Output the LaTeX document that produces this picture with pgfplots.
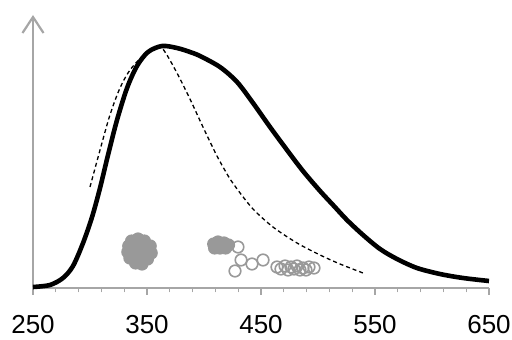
\documentclass[border=0pt]{standalone}
\usepackage{fontspec}
\setmainfont{Liberation Sans}
\usepackage{pgfplots}
\pgfplotsset{compat=1.18}
\usetikzlibrary{arrows.meta}
\definecolor{axgray}{HTML}{A6A6A6}
\definecolor{mkgray}{HTML}{999999}
\begin{document}
\begin{tikzpicture}
\begin{axis}[
  name=ax, at={(0,0)}, anchor=south west,
  scale only axis, width=456pt, height=273pt,
  xmin=250, xmax=650, ymin=0, ymax=273,
  enlargelimits=false, clip=false,
  axis x line=bottom, axis y line=left,
  x axis line style={-, draw=axgray, line width=1.6pt},
  y axis line style={-{Straight Barb[length=16pt,width=21pt]}, draw=axgray, line width=2.2pt},
  xtick={250,350,450,550,650}, minor x tick num=4,
  ytick=\empty,
  tick align=outside,
  major tick length=7pt, minor tick length=4.5pt,
  every tick/.style={draw=axgray, line width=1.2pt},
  /pgf/number format/assume math mode=true,
  xticklabel style={font=\fontsize{26}{26}\selectfont, inner sep=0pt, anchor=north, yshift=-20pt},
]
% solid curve
\addplot[black, line width=4.6pt, smooth] coordinates {
(250,1) (264.9,3) (276.3,10) (285.1,22) (293.9,45) (301.8,71) (308.8,100)
(315.8,133) (323.7,168) (332.5,200) (341.2,222) (350.9,236) (363.2,242)
(376.3,240) (387.7,236) (396.5,232) (414.0,221) (429.0,206) (443.0,185)
(457.9,161) (472.8,138) (486.8,117) (501.8,97) (514.0,82) (525.4,68)
(539.5,53) (554.4,39) (569.3,29) (586.8,20) (607.0,14) (627.2,10) (650,7)
};
% dashed curve
\addplot[black, line width=1.3pt, smooth, dash pattern=on 4pt off 3pt] coordinates {
(300.0,101) (308.8,138) (317.5,173) (326.3,200) (335.1,218) (346.5,232)
(359.6,242) (365.8,236) (376.3,215) (387.7,189) (399.1,161) (411.4,132)
(422.8,109) (429.0,99) (443.0,79) (460.5,61) (481.6,45) (501.8,33)
(519.3,24) (539.5,15)
};
% filled circles
\addplot[only marks, mark=*, mark size=5.8pt, mark options={draw=mkgray, fill=mkgray, line width=1.6pt}] coordinates {
(334.0,42) (336.5,47) (342.1,49) (347.7,47) (352.8,42) (353.7,35) (350.4,29)
(345.6,24) (340.0,25) (335.0,30) (333.2,36) (341.2,38) (346.5,36) (343.9,30)
(408.5,44) (412.3,46) (417.5,45) (421.5,43) (414.0,40) (409.3,40) (419.0,40)
};
% open circles
\addplot[only marks, mark=o, mark size=5.8pt, mark options={draw=mkgray, line width=1.6pt}] coordinates {
(429.8,41) (432.5,28) (427.2,17) (442.1,24) (451.8,28)
(464.0,21) (467.5,19) (471.1,22) (473.7,18) (476.3,21) (478.9,19)
(481.6,22) (484.2,18) (486.8,20) (489.5,18) (492.1,21) (496.5,20)
};
\end{axis}
\pgfresetboundingbox
\path (-33pt,-52pt) rectangle (479pt,288pt);
\end{tikzpicture}
\end{document}
